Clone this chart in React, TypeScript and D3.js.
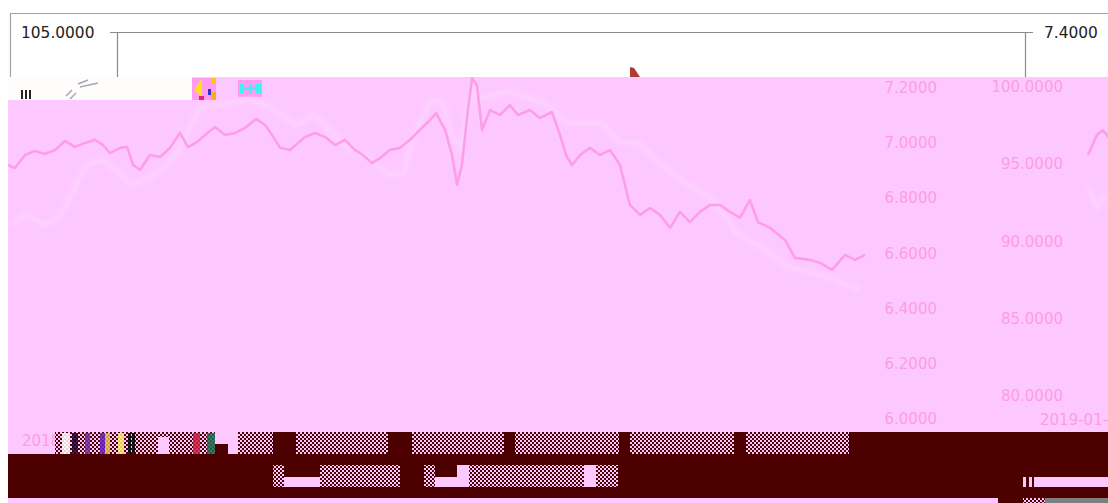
import React from "react";
import * as d3 from "d3";

// Days since the first session, and the two pieces of series
const rateDays = [0,2.3,5.7,9,12.3,15.7,19,22.3,25.7,29,31.7,34,37.3,39.7,41.7,44,47.3,50.7,54,57.3,60,63,65.7,69,72.3,75.7,79,82.7,85.7,88,90.7,94,96.7,99,102.3,105.7,109,112.3,115.7,118.3,121.3,124,127.3,130.7,134,137.3,140.7,142.7,145.7,148,149.7,151.3,153.3,154.7,156.3,158,160.7,164,167.3,170,174,177.3,181.3,184,186,188,190.7,194,197.3,200.7,204,207.3,210.7,214,217.3,220.7,224,227.3,230.7,234,237.3,240.7,244,247.3,250,254,259,262.3,267.3,270.7,274.7,279,282.3,285.7];
const rateValues = [6.921,6.91,6.957,6.972,6.961,6.975,7.008,6.986,7.001,7.012,6.993,6.964,6.983,6.986,6.921,6.903,6.957,6.95,6.983,7.037,6.986,7.004,7.03,7.059,7.03,7.037,7.055,7.088,7.066,7.03,6.983,6.975,7.001,7.022,7.037,7.022,6.993,7.012,6.975,6.957,6.928,6.946,6.975,6.983,7.012,7.048,7.084,7.109,7.048,6.957,6.849,6.921,7.12,7.236,7.211,7.048,7.12,7.102,7.138,7.102,7.12,7.091,7.113,7.03,6.957,6.921,6.957,6.983,6.957,6.975,6.921,6.776,6.74,6.765,6.74,6.693,6.751,6.714,6.751,6.776,6.776,6.751,6.729,6.794,6.714,6.693,6.649,6.584,6.577,6.566,6.541,6.595,6.577,6.595];
const indexDays = [1,6,12,17,21,26,31,36,41,47,52,57,61,64,69,81,88,96,102,108,114,120,127,132,136,141,145,148,151,153,155,157,161,167,174,180,186,198,204,210,221,227,234,243,254,260,271,284];
const indexValues = [91.07,91.72,91.07,91.52,93.01,94.95,95.28,94.63,93.66,94.11,94.76,95.92,97.54,98.64,98.83,99.16,98.64,97.54,98.19,97.02,95.92,95.47,94.3,94.5,97.22,99.16,99.03,96.89,95.92,98.19,100,99.16,99.48,99.68,99.29,98.83,97.67,97.67,96.38,96.38,94.43,93.66,92.88,90.55,89.26,88.35,87.83,86.86];
const nextDays = [360,363,365,367];
const nextValues = [95.6,96.9,97.2,96.7];
const nextShadowDays = [360,363,366];
const nextShadowValues = [93.5,92.2,93];
const rateTicks = [7.2,7.0,6.8,6.6,6.4,6.2,6.0];
const indexTicks = [100,95,90,85,80];

const PINK = "#fdc8ff";
const DARK = "#4d0000";
const GREY = "#a3a3a3";
const TICK = "#fc9edd";
const FONT = "DejaVu Sans, sans-serif";

const x = d3.scaleLinear().domain([0, 367]).range([8, 1109]);
const yRate = d3.scaleLinear().domain([6, 7.2]).range([419, 88]);
const yIndex = d3.scaleLinear().domain([80, 100]).range([396, 87]);
const rateLine = d3.line<number>().x((_, i) => x(rateDays[i])).y((d) => yRate(d));
const indexLine = d3.line<number>().x((_, i) => x(indexDays[i])).y((d) => yIndex(d));
const nextLine = d3.line<number>().x((_, i) => x(nextDays[i])).y((d) => yIndex(d));
const nextShadowLine = d3.line<number>().x((_, i) => x(nextShadowDays[i])).y((d) => yIndex(d));

// Blocks of scrambled legend and caption pixels
const rowOne = [[55,160],[238,35],[296,92],[412,92],[515,104],[630,104],[746,103]];
const rowTwo = [[273,11],[320,80],[424,11],[469,115],[596,22]];
const stripes = [
  [62,8,"#ffffff"],[72,6,"#20002a"],[85,5,"#7030a0"],[100,5,"#6a1fc0"],[105,5,"#e0c040"],
  [118,6,"#ffef70"],[128,3,"#000000"],[132,3,"#000000"],[193,7,"#d02040"],[207,8,"#1f6b50"],
];

export default function App() {
  return (
    <svg width={1108} height={503} style={{ position: "absolute", left: 0, top: 0, display: "block", background: "#fff" }}>
      <defs>
        <pattern id="mosaic" width="4" height="4" patternUnits="userSpaceOnUse">
          <rect width="4" height="4" fill={DARK} />
          <rect x="0" y="0" width="2" height="2" fill={PINK} />
          <rect x="2" y="2" width="2" height="2" fill={PINK} />
        </pattern>
        <clipPath id="plot"><rect x={8} y={77} width={1100} height={355} /></clipPath>
        <filter id="soft"><feGaussianBlur stdDeviation="0.5" /></filter>
        <filter id="softer"><feGaussianBlur stdDeviation="1.6" /></filter>
      </defs>

      {/* frame above the damaged area */}
      <path d={`M10.5 85V13.5H1108`} fill="none" stroke={GREY} strokeWidth={1.2} />
      <path d={`M110 32.5H1033M117.5 32.5V78M1025.5 32.5V78`} fill="none" stroke="#8a8a8a" strokeWidth={1.2} />
      <text x={21} y={38} fontFamily={FONT} fontSize={15.4} fill="#222">105.0000</text>
      <text x={1044} y={38} fontFamily={FONT} fontSize={15.4} fill="#222">7.4000</text>
      <path d="M630 77V67L634 68L640 77Z" fill="#b23a34" />

      {/* pink field */}
      <rect x={8} y={77} width={1100} height={377} fill={PINK} />
      <rect x={8} y={77} width={184} height={23} fill="#fffdfb" />
      <rect x={21} y={90} width={2} height={9} fill="#222" />
      <rect x={25} y={90} width={2} height={9} fill="#222" />
      <rect x={29} y={90} width={2} height={9} fill="#222" />
      <path d="M66 96L72 90M70 99L76 93M78 84L88 80M80 87L98 83" stroke="#a8a8b8" strokeWidth={1.5} fill="none" />
      <rect x={192} y={78} width={24} height={22} fill="#ff9cf0" />
      <path d="M194 90L202 78V97Z" fill="#ffe020" />
      <rect x={199} y={96} width={5} height={4} fill="#f02070" />
      <rect x={211} y={78} width={5} height={5} fill="#ffc020" />
      <rect x={211} y={92} width={5} height={8} fill="#ffa820" />
      <rect x={208} y={89} width={3} height={6} fill="#3030d0" />
      <rect x={238} y={80} width={24} height={17} fill="#ff9cf0" />
      <path d="M240 84H244V87H249V84H252V87H256V84H261V93H256V90H252V93H249V90H244V93H240Z" fill="#40f0f4" />

      {/* series */}
      <g clipPath="url(#plot)" fill="none" strokeLinejoin="round">
        <g filter="url(#softer)">
          <path d={indexLine(indexValues) ?? ""} stroke="#fdd0ff" strokeWidth={6} />
          <path d={nextShadowLine(nextShadowValues) ?? ""} stroke="#fdd0ff" strokeWidth={6} />
        </g>
        <g filter="url(#soft)">
          <path d={rateLine(rateValues) ?? ""} stroke="#fd9fe6" strokeWidth={2.6} />
          <path d={nextLine(nextValues) ?? ""} stroke="#fd9fe6" strokeWidth={2.6} />
        </g>
      </g>

      {/* pale axis labels */}
      <g fontFamily={FONT} fontSize={15} fill={TICK} textAnchor="end">
        {rateTicks.map((t) => (
          <text key={t} x={937} y={yRate(t) + 5}>{t.toFixed(4)}</text>
        ))}
        {indexTicks.map((t) => (
          <text key={t} x={1063} y={yIndex(t) + 5}>{t.toFixed(4)}</text>
        ))}
      </g>
      <text x={1040} y={425} fontFamily={FONT} fontSize={15} fill={TICK}>2019-01-</text>
      <text x={22} y={446} fontFamily={FONT} fontSize={15} fill={TICK}>2018-01</text>

      {/* dark band with scrambled blocks */}
      <rect x={215} y={444} width={13} height={10} fill={DARK} />
      <rect x={146} y={444} width={12} height={10} fill={DARK} />
      <rect x={273} y={432} width={835} height={22} fill={DARK} />
      <rect x={8} y={454} width={1100} height={44} fill={DARK} />
      {rowOne.map(([s, w]) => (
        <rect key={s} x={s} y={432} width={w} height={22} fill="url(#mosaic)" />
      ))}
      <rect x={158} y={437} width={11} height={17} fill={PINK} />
      {stripes.map(([s, w, c]) => (
        <rect key={s as number} x={s as number} y={433} width={w as number} height={21} fill={c as string} opacity={0.85} />
      ))}
      {rowTwo.map(([s, w]) => (
        <rect key={s} x={s} y={465} width={w} height={22} fill="url(#mosaic)" />
      ))}
      <rect x={284} y={477} width={36} height={10} fill={PINK} />
      <rect x={435} y={477} width={23} height={10} fill={PINK} />
      <rect x={457} y={465} width={12} height={22} fill={PINK} />
      <rect x={584} y={465} width={12} height={22} fill={PINK} />
      <rect x={1034} y={477} width={74} height={10} fill={PINK} />
      <rect x={1023} y={477} width={3} height={10} fill={PINK} />
      <rect x={1029} y={477} width={3} height={10} fill={PINK} />
      <rect x={8} y={498} width={990} height={5} fill={PINK} />
      <rect x={998} y={498} width={25} height={5} fill={DARK} />
      <rect x={1023} y={498} width={22} height={5} fill="url(#mosaic)" />
      <rect x={1045} y={498} width={63} height={5} fill="#7e7e7e" />
    </svg>
  );
}
